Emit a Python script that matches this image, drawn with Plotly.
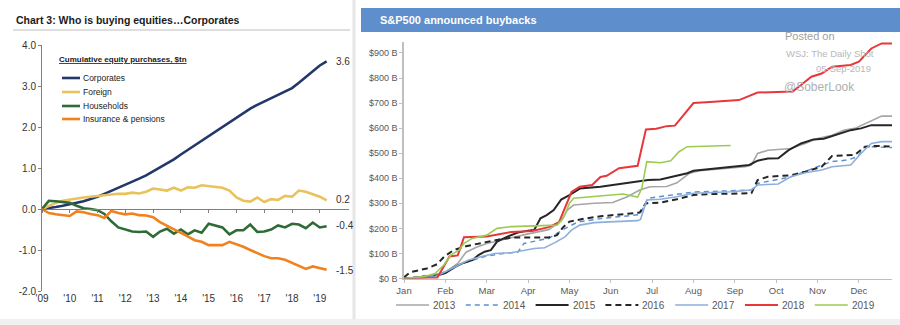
import plotly.graph_objects as go
import pandas as pd

W, H = 900, 325

# ---------------- Left chart data (quarterly, $tn cumulative) ----------------
left_dates = pd.date_range("2009-01-01", periods=42, freq="QS")
corporates = [0, 0.02, 0.05, 0.08, 0.11, 0.15, 0.19, 0.24, 0.30, 0.37, 0.44, 0.52,
              0.60, 0.67, 0.74, 0.82, 0.92, 1.00, 1.10, 1.21, 1.33, 1.44, 1.55, 1.67,
              1.79, 1.90, 2.01, 2.12, 2.23, 2.35, 2.45, 2.54, 2.62, 2.70, 2.78, 2.86,
              2.95, 3.08, 3.22, 3.36, 3.50, 3.60]
foreign = [0, 0.08, 0.15, 0.20, 0.23, 0.26, 0.28, 0.30, 0.32, 0.34, 0.36, 0.37,
           0.37, 0.40, 0.38, 0.42, 0.50, 0.47, 0.45, 0.52, 0.45, 0.53, 0.52, 0.58,
           0.56, 0.55, 0.52, 0.45, 0.28, 0.20, 0.18, 0.28, 0.17, 0.24, 0.22, 0.32,
           0.30, 0.45, 0.42, 0.36, 0.30, 0.21]
households = [0, 0.20, 0.19, 0.17, 0.15, 0.08, 0.02, 0.00, -0.03, -0.12, -0.30, -0.45,
              -0.50, -0.55, -0.56, -0.55, -0.68, -0.55, -0.48, -0.60, -0.50, -0.62, -0.52, -0.58,
              -0.36, -0.40, -0.45, -0.62, -0.52, -0.52, -0.38, -0.56, -0.55, -0.50, -0.40, -0.45,
              -0.36, -0.38, -0.47, -0.33, -0.45, -0.42]
insurance = [0, -0.10, -0.13, -0.15, -0.17, -0.06, -0.08, -0.12, -0.15, -0.22, -0.05, -0.10,
             -0.13, -0.11, -0.15, -0.16, -0.20, -0.32, -0.40, -0.50, -0.58, -0.67, -0.76, -0.80,
             -0.88, -0.88, -0.88, -0.80, -0.86, -0.92, -1.00, -1.08, -1.15, -1.20, -1.20, -1.24,
             -1.32, -1.40, -1.46, -1.40, -1.45, -1.48]
left_names = ["Corporates", "Foreign", "Households", "Insurance &amp; pensions"]
left_colors = ["#22386A", "#E9C25C", "#2F6B36", "#F0821F"]
left_end_labels = ["3.6", "0.2", "-0.4", "-1.5"]
left_end_pos = [3.6, 0.22, -0.41, -1.49]
left_year_ticks = list(range(2009, 2020))
left_year_text = ["'09", "'10", "'11", "'12", "'13", "'14", "'15", "'16", "'17", "'18", "'19"]
left_y_ticks = [4, 3, 2, 1, 0, -1, -2]
left_y_text = ["4.0", "3.0", "2.0", "1.0", "0.0", "-1.0", "-2.0"]

# ---------------- Right chart data (months since Jan 1, $B cumulative) ----------------
x2013 = [0, 0.5, 1.0, 1.3, 1.5, 1.75, 2.0, 2.5, 3.0, 3.5, 3.8, 3.95, 4.1, 4.6, 5.05, 5.4, 5.7, 5.95,
         6.35, 6.6, 6.9, 7.15, 7.9, 8.25, 8.4, 8.55, 8.8, 9.35, 9.7, 10.0, 10.35, 10.65, 10.9,
         11.15, 11.4, 11.55, 11.8]
y2013 = [0, 8, 25, 60, 105, 125, 140, 160, 178, 195, 230, 273, 293, 300, 303, 326, 353, 366,
         367, 382, 420, 430, 440, 446, 453, 499, 512, 519, 539, 559, 572, 592, 599,
         619, 639, 648, 648]
x2014 = [0, 0.9, 1.4, 2.0, 2.4, 2.75, 2.9, 3.5, 3.9, 4.2, 4.8, 5.4, 5.7, 5.9, 6.3, 7.0, 7.9,
         8.4, 8.56, 9.36, 10.0, 10.33, 10.73, 10.97, 11.14, 11.8]
y2014 = [0, 20, 60, 90, 100, 105, 140, 160, 200, 225, 240, 250, 255, 320, 330, 345, 350,
         353, 380, 406, 446, 466, 473, 486, 526, 523]
x2015 = [0, 0.7, 1.0, 1.25, 1.45, 1.65, 1.8, 1.95, 2.1, 2.25, 2.5, 2.75, 3.0, 3.15, 3.3, 3.45,
         3.62, 3.8, 4.0, 4.25, 4.75, 5.4, 5.9, 6.2, 6.5, 6.85, 7.0, 7.4, 7.9, 8.35, 8.55, 8.8,
         9.05, 9.3, 9.6, 9.9, 10.15, 10.5, 10.8, 11.05, 11.3, 11.8]
y2015 = [0, 7, 22, 47, 63, 73, 93, 107, 113, 147, 167, 183, 191, 194, 240, 253,
         273, 315, 333, 359, 366, 380, 393, 395, 406, 420, 430, 436, 446, 453, 470, 479,
         480, 512, 539, 555, 558, 577, 592, 599, 612, 612]
x2016 = [0, 0.15, 0.55, 0.8, 0.97, 1.2, 1.5, 2.0, 2.3, 2.65, 3.5, 3.7, 3.85, 4.0, 4.4, 4.8,
         5.4, 5.7, 5.85, 6.2, 6.6, 7.0, 7.4, 8.4, 8.55, 8.8, 9.35, 9.7, 10.1, 10.35, 10.9,
         11.15, 11.4, 11.8]
y2016 = [5, 25, 40, 57, 87, 113, 129, 147, 156, 164, 164, 173, 205, 227, 240, 249,
         260, 263, 300, 303, 316, 333, 337, 340, 393, 406, 412, 426, 446, 489, 493,
         526, 529, 526]
x2017 = [0, 0.75, 1.0, 1.3, 1.55, 1.9, 2.2, 2.6, 3.15, 3.4, 3.65, 3.9, 4.05, 4.25, 4.6, 5.1,
         5.65, 5.72, 5.87, 6.2, 6.6, 7.0, 7.9, 8.4, 8.55, 9.05, 9.35, 9.7, 10.1, 10.35, 10.8,
         11.05, 11.3, 11.55, 11.8]
y2017 = [0, 7, 27, 53, 73, 89, 100, 103, 120, 123, 143, 167, 193, 213, 223, 227,
         231, 236, 313, 316, 326, 340, 346, 353, 373, 377, 406, 422, 433, 446, 453,
         499, 539, 546, 546]
x2018 = [0, 0.8, 1.1, 1.3, 1.45, 2.0, 2.6, 3.1, 3.5, 3.75, 4.05, 4.25, 4.55, 4.75, 4.9, 5.2,
         5.65, 5.85, 6.1, 6.35, 6.55, 6.85, 7.0, 7.4, 7.8, 8.1, 8.55, 9.05, 9.4, 9.6, 9.85,
         10.1, 10.35, 10.8, 11.0, 11.3, 11.55, 11.8]
y2018 = [0, 2, 88, 92, 165, 168, 186, 190, 205, 225, 345, 366, 373, 405, 410, 440,
         450, 595, 598, 608, 610, 672, 700, 704, 708, 712, 742, 745, 746, 772, 805,
         818, 845, 852, 865, 918, 938, 938]
x2019 = [0, 0.5, 0.75, 0.97, 1.13, 1.33, 1.45, 1.65, 2.0, 2.25, 2.6, 3.2, 3.7, 3.85, 4.0, 4.1,
         4.6, 5.3, 5.65, 5.75, 5.87, 6.2, 6.45, 6.65, 6.85, 7.25, 7.9]
y2019 = [0, 8, 20, 55, 93, 113, 140, 160, 173, 200, 207, 211, 213, 240, 300, 320,
         328, 337, 325, 360, 466, 462, 470, 506, 526, 529, 531]

right_years = ["2013", "2014", "2015", "2016", "2017", "2018", "2019"]
right_x = [x2013, x2014, x2015, x2016, x2017, x2018, x2019]
right_y = [y2013, y2014, y2015, y2016, y2017, y2018, y2019]
right_colors = ["#A6A6A6", "#5C8FD3", "#262626", "#262626", "#8EAFDB", "#E8373A", "#9CCB52"]
right_dash = ["solid", "5px,4px", "solid", "6px,4px", "solid", "solid", "solid"]
right_width = [1.6, 1.5, 2.0, 2.0, 1.6, 2.0, 1.6]
month_ticks = list(range(12))
month_text = ["Jan", "Feb", "Mar", "Apr", "May", "Jun", "Jul", "Aug", "Sep", "Oct", "Nov", "Dec"]
bb_ticks = list(range(0, 1000, 100))
bb_text = ["$0 B", "$100 B", "$200 B", "$300 B", "$400 B", "$500 B", "$600 B", "$700 B", "$800 B", "$900 B"]


def px(x):
    return x / W


def py(y):
    return 1 - y / H


SANS = "Liberation Sans, Arial, sans-serif"
NARROW = "Liberation Sans Narrow, Arial Narrow, Liberation Sans, sans-serif"

fig = go.Figure()

# left traces
for name, vals, col in zip(left_names, [corporates, foreign, households, insurance], left_colors):
    fig.add_trace(go.Scatter(x=left_dates, y=vals, mode="lines", name=name,
                             line=dict(color=col, width=2.6), showlegend=False,
                             xaxis="x", yaxis="y", hoverinfo="skip"))

# helper invisible trace so the zero-line axis (x3) renders
fig.add_trace(go.Scatter(x=[left_dates[0]], y=[0], mode="markers", marker=dict(opacity=0),
                         xaxis="x3", yaxis="y", showlegend=False, hoverinfo="skip"))

# right traces
for nm, xs, ys, col, dsh, wd in zip(right_years, right_x, right_y, right_colors, right_dash, right_width):
    fig.add_trace(go.Scatter(x=xs, y=ys, mode="lines", name=nm,
                             line=dict(color=col, width=wd, dash=dsh),
                             xaxis="x2", yaxis="y2", showlegend=False, hoverinfo="skip"))

left_dom_x = [px(42), px(349)]
left_dom_y = [py(291), py(45)]
zero_pos = py(209)
lrange = ["2009-01-01", "2020-01-20"]

fig.update_layout(
    width=W, height=H, margin=dict(l=0, r=0, t=0, b=0, autoexpand=False),
    paper_bgcolor="white", plot_bgcolor="rgba(0,0,0,0)", showlegend=False,
    xaxis=dict(domain=left_dom_x, type="date", range=lrange,
               tickvals=[f"{y}-01-01" for y in left_year_ticks], ticktext=left_year_text,
               showline=False, ticks="", showgrid=False, zeroline=False, automargin=False,
               tickfont=dict(family=NARROW, size=10, color="#333333"), anchor="y"),
    xaxis3=dict(domain=left_dom_x, type="date", range=lrange,
                overlaying="x", anchor="free", position=zero_pos,
                tickvals=[f"{y}-01-01" for y in left_year_ticks], showticklabels=False,
                showline=True, linecolor="#7F7F7F", linewidth=1, ticks="outside",
                ticklen=3, tickcolor="#7F7F7F", showgrid=False, zeroline=False, automargin=False),
    yaxis=dict(domain=left_dom_y, range=[-2, 4], tickvals=left_y_ticks, ticktext=left_y_text,
               showline=True, linecolor="#7F7F7F", linewidth=1, ticks="outside", ticklen=3,
               tickcolor="#7F7F7F", showgrid=False, zeroline=False, anchor="x", automargin=False,
               tickfont=dict(family=NARROW, size=10, color="#333333")),
    xaxis2=dict(domain=[px(404), px(892)], range=[0, 11.8], tickvals=month_ticks, ticktext=month_text,
                showline=True, linecolor="#BFBFBF", linewidth=1, ticks="outside", ticklen=3,
                tickcolor="#BFBFBF", showgrid=False, zeroline=False, anchor="y2", automargin=False,
                tickfont=dict(family=SANS, size=9.5, color="#595959")),
    yaxis2=dict(domain=[py(278.5), py(42)], range=[0, (278.5 - 42) / 0.2506],
                tickvals=bb_ticks, ticktext=bb_text,
                showline=True, linecolor="#BFBFBF", linewidth=1.5, ticks="outside", ticklen=3,
                tickcolor="#BFBFBF", showgrid=False, zeroline=False, anchor="x2", automargin=False,
                tickfont=dict(family=SANS, size=9, color="#595959")),
)

shapes = []
annotations = []

# page decorations: panel separator and bottom band
shapes.append(dict(type="line", xref="paper", yref="paper", x0=px(354), x1=px(354), y0=0, y1=1,
                   line=dict(color="#E6E6E6", width=3), layer="below"))
shapes.append(dict(type="rect", xref="paper", yref="paper", x0=0, x1=1, y0=0, y1=py(319),
                   fillcolor="#F0F0F0", line=dict(width=0), layer="below"))

# Left title and rule
annotations.append(dict(text="<b>Chart 3: Who is buying equities…Corporates</b>", x=px(14), y=py(20),
                        xref="paper", yref="paper", xanchor="left", yanchor="middle", showarrow=False,
                        font=dict(family=SANS, size=10.5, color="#1A1A1A")))
shapes.append(dict(type="line", xref="paper", yref="paper", x0=px(13), x1=px(350), y0=py(30), y1=py(30),
                   line=dict(color="#BDBDBD", width=1)))

# Left legend (manual)
annotations.append(dict(text="<b><u>Cumulative equity purchases, $tn</u></b>", x=px(57), y=py(59),
                        xref="paper", yref="paper", xanchor="left", yanchor="middle", showarrow=False,
                        font=dict(family=NARROW, size=8, color="#1A1A1A")))
leg_rows = [78, 92, 106, 119]
for nm, col, ry in zip(left_names, left_colors, leg_rows):
    shapes.append(dict(type="line", xref="paper", yref="paper", x0=px(62), x1=px(80), y0=py(ry), y1=py(ry),
                       line=dict(color=col, width=2.6)))
    annotations.append(dict(text=nm, x=px(81), y=py(ry), xref="paper", yref="paper", xanchor="left",
                            yanchor="middle", showarrow=False,
                            font=dict(family=NARROW, size=8.5, color="#1A1A1A")))

# Left end labels
for lab, val in zip(left_end_labels, left_end_pos):
    annotations.append(dict(text=lab, x="2019-07-01", y=val, xref="x", yref="y", xanchor="left",
                            yanchor="middle", showarrow=False,
                            font=dict(family=NARROW, size=10, color="#333333")))

# Right header bar
shapes.append(dict(type="rect", xref="paper", yref="paper", x0=px(361), x1=1, y0=py(32), y1=py(8),
                   fillcolor="#5E8ECB", line=dict(width=0), layer="below"))
annotations.append(dict(text="<b>S&amp;P500 announced buybacks</b>", x=px(378), y=py(20), xref="paper",
                        yref="paper", xanchor="left", yanchor="middle", showarrow=False,
                        font=dict(family=SANS, size=11, color="white")))

# Right legend (manual, horizontal)
for i, (nm, col, dsh, wd) in enumerate(zip(right_years, right_colors, right_dash, right_width)):
    x0 = 396 + 69.8 * i
    shapes.append(dict(type="line", xref="paper", yref="paper", x0=px(x0), x1=px(x0 + 33),
                       y0=py(305), y1=py(305), line=dict(color=col, width=wd, dash=dsh)))
    annotations.append(dict(text=nm, x=px(x0 + 35), y=py(305), xref="paper", yref="paper",
                            xanchor="left", yanchor="middle", showarrow=False,
                            font=dict(family=SANS, size=10, color="#595959")))

# Watermark
wm = [("Posted on", 783, 36, 11, "#A0A0A0"),
      ("WSJ: The Daily Shot", 784, 53, 9.5, "#B8B8B8"),
      ("05-Sep-2019", 814, 68, 9.5, "#B8B8B8"),
      ("@SoberLook", 782, 87, 12, "#AFAFAF")]
for t, xx, yy, fs, c in wm:
    annotations.append(dict(text=t, x=px(xx), y=py(yy), xref="paper", yref="paper", xanchor="left",
                            yanchor="middle", showarrow=False, font=dict(family=SANS, size=fs, color=c)))

fig.update_layout(shapes=shapes, annotations=annotations)
fig.write_html("out.html")
